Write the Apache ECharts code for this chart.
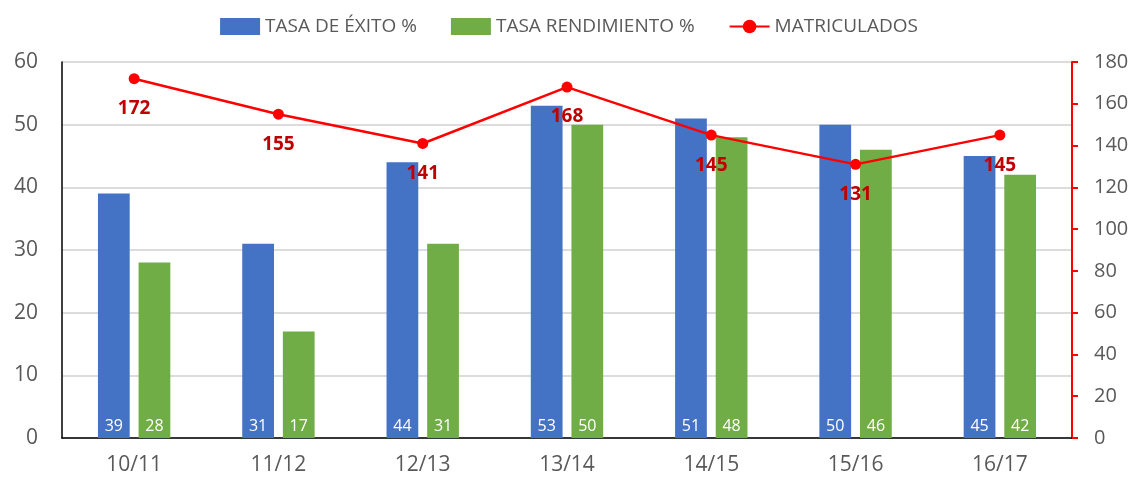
<!DOCTYPE html>
<html>
<head>
<meta charset="utf-8">
<script src="https://cdn.jsdelivr.net/npm/echarts@6/dist/echarts.min.js"></script>
<style>
  html, body { margin: 0; padding: 0; background: #fff; }
  #chart { width: 1138px; height: 484px; }
</style>
</head>
<body>
<div id="chart"></div>
<script>
// values
var courses = ["10/11", "11/12", "12/13", "13/14", "14/15", "15/16", "16/17"];
var tasaExito = [39, 31, 44, 53, 51, 50, 45];
var tasaRendimiento = [28, 17, 31, 50, 48, 46, 42];
var matriculados = [172, 155, 141, 168, 145, 131, 145];

var font = "'Open Sans', 'Noto Sans', sans-serif";
var chart = echarts.init(document.getElementById("chart"));

var barLabel = {
  show: true,
  position: "insideBottom",
  distance: 4,
  color: "#fff",
  fontSize: 16,
  fontFamily: font
};

var option = {
  animation: false,
  legend: {
    top: 12,
    left: "center",
    itemWidth: 40,
    itemHeight: 17,
    itemGap: 34,
    textStyle: { color: "#595959", fontSize: 19, fontFamily: font },
    data: [
      { name: "TASA DE ÉXITO %", icon: "rect" },
      { name: "TASA RENDIMIENTO %", icon: "rect" },
      { name: "MATRICULADOS" }
    ]
  },
  grid: { left: 62, right: 66, top: 62, bottom: 46 },
  xAxis: {
    type: "category",
    data: courses,
    axisLine: { lineStyle: { color: "#000", width: 1.5 } },
    axisTick: { show: false },
    axisLabel: { color: "#595959", fontSize: 21, fontFamily: font, margin: 17 }
  },
  yAxis: [
    {
      type: "value",
      min: 0,
      max: 60,
      interval: 10,
      axisLine: { show: true, lineStyle: { color: "#000", width: 1.5 } },
      axisTick: { show: false },
      axisLabel: { color: "#595959", fontSize: 21, fontFamily: font, margin: 24 },
      splitLine: { lineStyle: { color: "#d0d0d0", width: 1.5 } }
    },
    {
      type: "value",
      min: 0,
      max: 180,
      interval: 20,
      position: "right",
      axisLine: { show: true, lineStyle: { color: "#ff0000", width: 2 } },
      axisTick: { show: true, length: 6, lineStyle: { color: "#ff0000", width: 2 } },
      axisLabel: { color: "#595959", fontSize: 20, fontFamily: font, margin: 22 },
      splitLine: { show: false }
    }
  ],
  series: [
    {
      name: "TASA DE ÉXITO %",
      type: "bar",
      data: tasaExito,
      barWidth: "22%",
      barGap: "28%",
      itemStyle: { color: "#4472C4" },
      label: barLabel
    },
    {
      name: "TASA RENDIMIENTO %",
      type: "bar",
      data: tasaRendimiento,
      barWidth: "22%",
      itemStyle: { color: "#70AD47" },
      label: barLabel
    },
    {
      name: "MATRICULADOS",
      type: "line",
      yAxisIndex: 1,
      data: matriculados,
      symbol: "circle",
      symbolSize: 11,
      z: 5,
      lineStyle: { color: "#ff0000", width: 2.5 },
      itemStyle: { color: "#ff0000" },
      label: {
        show: true,
        position: "bottom",
        distance: 15,
        color: "#C00000",
        fontSize: 19,
        fontWeight: "bold",
        fontFamily: font
      }
    }
  ]
};

chart.setOption(option);
</script>
</body>
</html>
